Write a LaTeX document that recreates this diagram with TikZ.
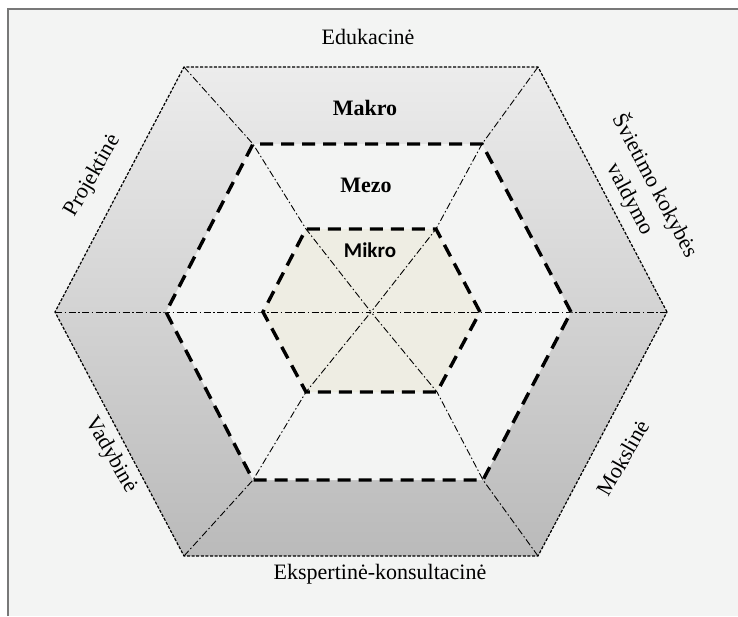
\documentclass[tikz,border=0pt]{standalone}
\usepackage{fontspec}
\setmainfont{Liberation Serif}
\newfontfamily\mikrofont{Carlito}
\usepackage{tikz}

\definecolor{bgcol}{RGB}{243,244,243}
\definecolor{ringtop}{RGB}{236,236,236}
\definecolor{ringbot}{RGB}{186,186,186}
\definecolor{mikrocol}{RGB}{238,237,227}
\definecolor{framecol}{RGB}{120,120,120}

\begin{document}
\begin{tikzpicture}[x=1pt,y=-1pt]
          \tikzstyle{outerline}=[line width=1.2pt,dash pattern=on 3pt off 1.6pt]
          \tikzstyle{levelline}=[line width=3.4pt,dash pattern=on 13pt off 8pt]
          \tikzstyle{spoke}=[line width=0.9pt,dash pattern=on 7pt off 2.5pt on 1.5pt off 2.5pt]
          \tikzstyle{side}=[font=\fontsize{22}{28}\selectfont]
          \tikzstyle{level}=[font=\fontsize{22}{26}\selectfont\bfseries]

          \useasboundingbox (0,0) rectangle (738,616);
          \fill[white] (0,0) rectangle (738,616);
          \fill[bgcol] (8,9) rectangle (738,616);
          \draw[framecol,line width=2pt] (8,616) -- (8,9) -- (738,9);

          % outer hexagon
          \coordinate (o1) at (667,312);
          \coordinate (o2) at (538,67);
          \coordinate (o3) at (184,67);
          \coordinate (o4) at (55,312);
          \coordinate (o5) at (184,556);
          \coordinate (o6) at (538,556);
          % mezo hexagon
          \coordinate (m1) at (571,312);
          \coordinate (m2) at (482,144);
          \coordinate (m3) at (253,144);
          \coordinate (m4) at (166,312);
          \coordinate (m5) at (253,480);
          \coordinate (m6) at (483,480);
          % mikro hexagon
          \coordinate (i1) at (480,312);
          \coordinate (i2) at (436,229);
          \coordinate (i3) at (306,229);
          \coordinate (i4) at (263,312);
          \coordinate (i5) at (306,392);
          \coordinate (i6) at (437,392);
          \coordinate (c) at (371,312);

          \shade[top color=ringtop,bottom color=ringbot]
            (o1) -- (o2) -- (o3) -- (o4) -- (o5) -- (o6) -- cycle;
          \fill[bgcol] (m1) -- (m2) -- (m3) -- (m4) -- (m5) -- (m6) -- cycle;
          \fill[mikrocol] (i1) -- (i2) -- (i3) -- (i4) -- (i5) -- (i6) -- cycle;

          \foreach \k in {1,...,6}
            \draw[spoke] (o\k) -- (m\k) -- (i\k) -- (c);

          \draw[outerline] (o1) -- (o2) -- (o3) -- (o4) -- (o5) -- (o6) -- cycle;
          \draw[levelline] (m1) -- (m2) -- (m3) -- (m4) -- (m5) -- (m6) -- cycle;
          \draw[levelline] (i1) -- (i2) -- (i3) -- (i4) -- (i5) -- (i6) -- cycle;

          \node[level] (makro) at (365,108) {Makro};
          \node[level] (mezo) at (366,185) {Mezo};
          \node[font=\fontsize{21}{24}\selectfont\mikrofont\bfseries] (mikro) at (370,250) {Mikro};

          \node[side] (edu) at (368,37) {Edukacinė};
          \node[side] (eksp) at (380,574) {Ekspertinė-konsultacinė};
          \node[side,rotate=60] (proj) at (93,176) {Projektinė};
          \node[side,rotate=-60] (vad) at (111,455) {Vadybinė};
          \node[side,rotate=60] (moks) at (623,458) {Mokslinė};
          \node[side,rotate=-62,align=center] (svk) at (643,192) {Švietimo kokybės\\valdymo};
        \end{tikzpicture}
\end{document}
